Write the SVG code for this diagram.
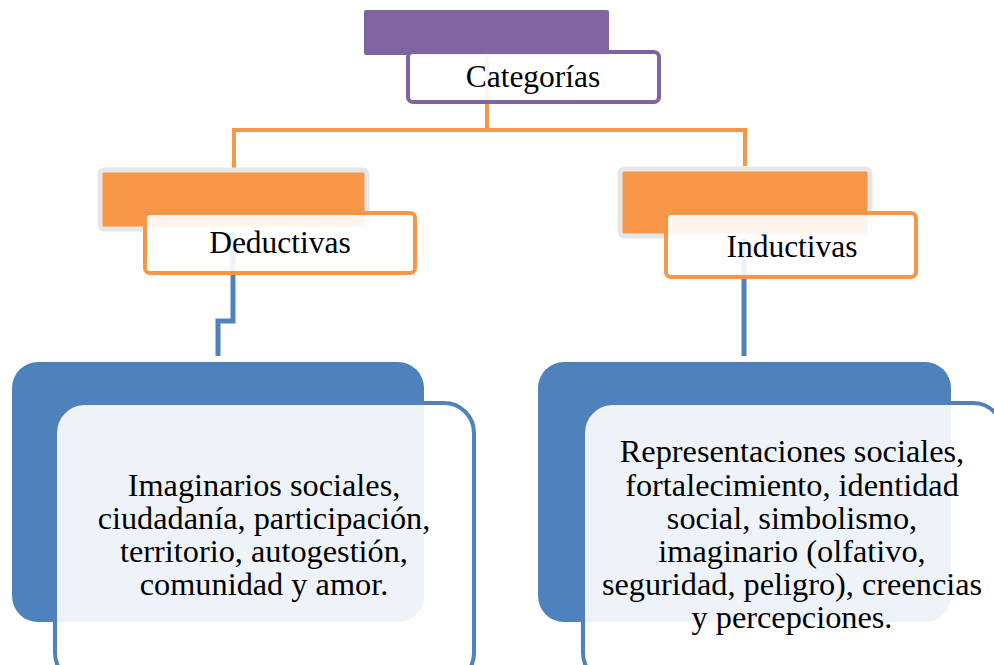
<svg xmlns="http://www.w3.org/2000/svg" width="994" height="665" viewBox="0 0 994 665">
<style>
  .t { font-family: "Liberation Serif", "Times New Roman", serif; font-size: 31.5px; fill: #000; text-anchor: middle; }
  .b { font-size: 32.3px; }
  .wbox { fill: #fff; fill-opacity: 0.9; }
  .conO { fill: none; stroke: #F79646; stroke-width: 4; }
  .conB { fill: none; stroke: #4F81BD; stroke-width: 5; }
</style>
<rect width="994" height="665" fill="#fff"/>
<g id="connectors">
  <path class="conO" d="M487,54 V130 M234,168 V130 H745 V166"/>
  <path class="conB" d="M233,232 V321 H218 V356"/>
  <path class="conB" d="M744,234 V356"/>
</g>
<g id="categorias">
  <rect x="364" y="10" width="245" height="45" rx="2" fill="#8064A2"/>
  <rect class="wbox" x="408" y="52" width="251" height="50" rx="5" stroke="#8064A2" stroke-width="4"/>
  <text class="t" x="533" y="87">Categorías</text>
</g>
<g id="deductivas">
  <rect x="100" y="170" width="267" height="59" rx="4" fill="#F79646" stroke="#E6E6E6" stroke-width="5"/>
  <rect class="wbox" x="145" y="213" width="270" height="60" rx="5" stroke="#F79646" stroke-width="4"/>
  <text class="t" x="280" y="253">Deductivas</text>
</g>
<g id="inductivas">
  <rect x="620" y="169" width="250" height="67" rx="4" fill="#F79646" stroke="#E6E6E6" stroke-width="5"/>
  <rect class="wbox" x="666" y="213" width="250" height="64" rx="5" stroke="#F79646" stroke-width="4"/>
  <text class="t" x="792" y="257">Inductivas</text>
</g>
<g id="imaginarios">
  <rect x="12" y="362" width="412" height="260" rx="26" fill="#4F81BD"/>
  <rect class="wbox" x="55" y="403" width="419" height="280" rx="30" stroke="#4F81BD" stroke-width="4"/>
  <text class="t b" x="264" y="496">Imaginarios sociales,</text>
  <text class="t b" x="264" y="529">ciudadanía, participación,</text>
  <text class="t b" x="264" y="562">territorio, autogestión,</text>
  <text class="t b" x="264" y="595">comunidad y amor.</text>
</g>
<g id="representaciones">
  <rect x="538" y="362" width="413" height="260" rx="26" fill="#4F81BD"/>
  <rect class="wbox" x="583" y="403" width="420" height="280" rx="30" stroke="#4F81BD" stroke-width="4"/>
  <text class="t b" x="792" y="462">Representaciones sociales,</text>
  <text class="t b" x="792" y="496">fortalecimiento, identidad</text>
  <text class="t b" x="792" y="529">social, simbolismo,</text>
  <text class="t b" x="792" y="562">imaginario (olfativo,</text>
  <text class="t b" x="792" y="595">seguridad, peligro), creencias</text>
  <text class="t b" x="792" y="628">y percepciones.</text>
</g>
</svg>
